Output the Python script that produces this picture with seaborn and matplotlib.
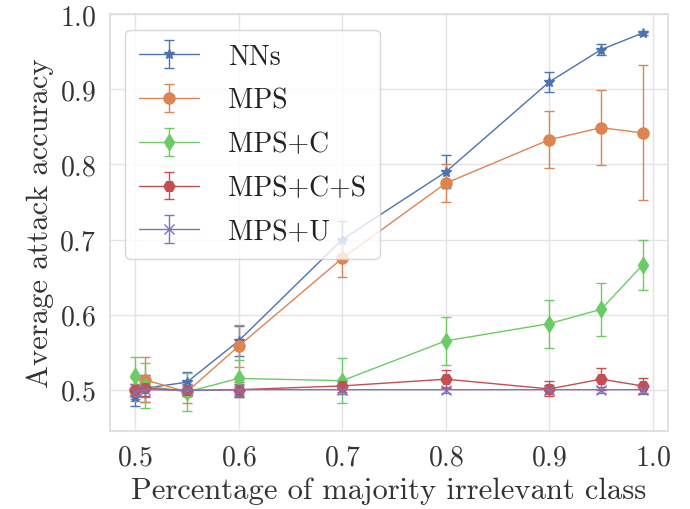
import numpy as np
import pandas as pd
import seaborn as sns
import matplotlib.pyplot as plt

# percentage of majority irrelevant class
x = [0.5, 0.51, 0.55, 0.6, 0.7, 0.8, 0.9, 0.95, 0.99]

nns = [0.490, 0.502, 0.510, 0.565, 0.700, 0.790, 0.910, 0.953, 0.975]
nns_err = [0.012, 0.018, 0.014, 0.020, 0.025, 0.022, 0.013, 0.007, 0.002]

mps = [0.500, 0.513, 0.497, 0.558, 0.675, 0.775, 0.833, 0.849, 0.842]
mps_err = [0.015, 0.030, 0.015, 0.028, 0.025, 0.025, 0.038, 0.050, 0.090]

mps_c = [0.518, 0.505, 0.497, 0.515, 0.512, 0.565, 0.588, 0.607, 0.666]
mps_c_err = [0.025, 0.030, 0.025, 0.025, 0.030, 0.032, 0.032, 0.035, 0.033]

mps_cs = [0.500, 0.502, 0.499, 0.500, 0.505, 0.514, 0.501, 0.514, 0.505]
mps_cs_err = [0.008, 0.010, 0.008, 0.010, 0.008, 0.012, 0.010, 0.015, 0.010]

mps_u = [0.497, 0.500, 0.499, 0.500, 0.500, 0.500, 0.500, 0.500, 0.500]
mps_u_err = [0.010, 0.010, 0.008, 0.008, 0.006, 0.004, 0.006, 0.004, 0.006]

labels = ["NNs", "MPS", "MPS+C", "MPS+C+S", "MPS+U"]
markers = ["*", "o", "d", "H", "x"]

sns.set_theme(style="whitegrid", rc={"grid.color": "#e4e4e4",
                                     "axes.edgecolor": "#dddddd"})
plt.rcParams["font.family"] = "serif"
plt.rcParams["font.serif"] = ["cmr10", "DejaVu Serif"]
plt.rcParams["axes.formatter.use_mathtext"] = True

deep = sns.color_palette("deep")
muted = sns.color_palette("muted")
colors = [deep[0], deep[1], muted[2], deep[3], deep[4]]
series = [(nns, nns_err), (mps, mps_err), (mps_c, mps_c_err),
          (mps_cs, mps_cs_err), (mps_u, mps_u_err)]

fig, ax = plt.subplots(figsize=(6.9, 5.1), dpi=100)
for (vals, err), lab, m, c in zip(series, labels, markers, colors):
    ms = 8 if m in ("o", "H", "d") else 7
    ax.errorbar(x, vals, yerr=err, label=lab, marker=m, color=c,
                linewidth=1, markersize=ms, capsize=3.5, elinewidth=1,
                capthick=1)

ax.set_xlim(0.4755, 1.0145)
ax.set_ylim(0.445, 1.0)
ax.set_xticks([0.5, 0.6, 0.7, 0.8, 0.9, 1.0])
ax.set_yticks([0.5, 0.6, 0.7, 0.8, 0.9, 1.0])
ax.tick_params(labelsize=20, colors="#333333")
ax.set_xlabel("Percentage of majority irrelevant class", fontsize=22,
              color="#333333")
ax.set_ylabel("Average attack accuracy", fontsize=22, color="#333333")
leg = ax.legend(loc="upper left", fontsize=20, handlelength=2.15,
                handletextpad=1.05, labelspacing=0.63, borderpad=0.5,
                borderaxespad=0.55)
for t in leg.get_texts():
    t.set_color("#222222")

fig.subplots_adjust(left=0.159, right=0.968, top=0.97, bottom=0.153)
fig.savefig("out.png", dpi=100)
